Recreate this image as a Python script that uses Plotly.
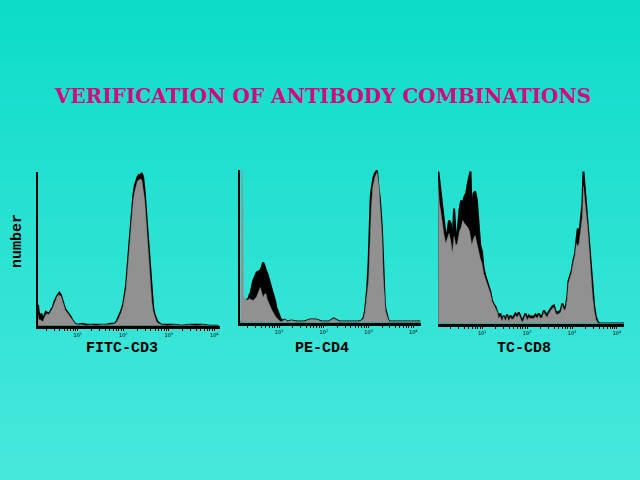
import math
import plotly.graph_objects as go

# ---------------- data (channel = 64 per decade, counts) ----------------
cd3_ch = [8, 9, 11, 13, 15, 17, 19, 21, 23, 25, 27, 29, 31, 33, 35, 37, 38, 40, 42, 44,
          46, 48, 50, 52, 54, 56, 58, 60, 64, 70, 76, 82, 90, 96, 104, 110, 116, 119, 122, 125,
          128, 130, 132, 134, 136, 138, 140, 142, 144, 146, 148, 150, 152, 154, 156, 158, 160, 162, 164, 166,
          168, 170, 172, 174, 176, 178, 182, 190, 200, 210, 220, 230, 240, 250, 262]
cd3_gray = [11, 6, 6, 5, 4, 8, 11, 12, 11, 13, 15, 18, 22, 26, 29, 31, 30, 30, 25, 20,
            16, 14, 12, 10, 7, 5, 3, 2, 1, 1, 0, 1, 0, 1, 1, 1, 2, 4, 8, 13,
            20, 27, 37, 55, 75, 95, 110, 125, 134, 141, 145, 146, 147, 146, 138, 126, 106, 85, 62, 42,
            24, 14, 8, 5, 3, 2, 1, 0, 1, 0, 1, 0, 1, 0, 0]
cd3_black = [21, 14, 9, 12, 6, 11, 14, 13, 12, 14, 16, 19, 24, 28, 30, 32, 33, 31, 26, 21,
             17, 15, 13, 12, 9, 6, 4, 2, 1, 2, 1, 1, 1, 1, 1, 2, 2, 5, 10, 15,
             22, 30, 41, 60, 80, 100, 115, 130, 140, 146, 149, 151, 150, 153, 148, 134, 114, 92, 70, 48,
             30, 18, 11, 7, 4, 3, 1, 1, 1, 0, 1, 1, 1, 0, 0]

cd4_ch = [9, 10, 11, 12, 13, 15, 18, 20, 22, 23, 27, 31, 32, 37, 39, 41, 43, 45, 47, 49,
          51, 52, 54, 56, 58, 60, 61, 64, 66, 68, 72, 76, 81, 90, 100, 108, 117, 125, 135, 142,
          150, 160, 170, 178, 182, 185, 187, 189, 190, 192, 193, 194, 195, 196, 198, 199, 201, 204, 206, 207,
          208, 211, 213, 215, 216, 218, 219, 220, 222, 223, 230, 245, 266]
cd4_gray = [1, 152, 152, 119, 24, 25, 22, 23, 24, 23, 22, 25, 26, 35, 30, 25, 28, 29, 23, 19,
            16, 15, 12, 9, 7, 5, 4, 2, 1, 1, 3, 1, 2, 1, 1, 3, 3, 1, 1, 4,
            1, 1, 1, 1, 2, 4, 10, 22, 30, 42, 60, 79, 100, 115, 135, 140, 145, 150, 140, 135,
            120, 89, 45, 19, 12, 7, 4, 3, 1, 1, 1, 1, 1]
cd4_black = [1, 1, 1, 1, 22, 23, 22, 24, 28, 29, 42, 49, 50, 52, 55, 60, 57, 52, 49, 44,
             39, 37, 34, 28, 22, 15, 13, 7, 4, 2, 3, 1, 2, 1, 1, 3, 3, 1, 1, 4,
             1, 1, 1, 1, 2, 5, 12, 26, 34, 60, 89, 105, 125, 132, 142, 145, 149, 152, 136, 132,
             125, 95, 52, 22, 14, 8, 5, 3, 1, 1, 1, 1, 1]

cd8_ch = [1.5, 3, 4.8, 7.2, 9.6, 12, 14.4, 16.8, 19.2, 21.5, 23.9, 26.3, 28.7, 31.6, 34, 36.3, 38.7, 41.1, 43.5, 45.9,
          47.3, 49.2, 51.6, 54, 56.4, 58.8, 61.2, 63.6, 66, 68.3, 70.7, 73.1, 75.5, 77.9, 80.3, 82.7, 85, 87.4, 89.8, 92.2,
          94.6, 97, 99.4, 101.8, 104.1, 106.5, 108.9, 111.3, 113.7, 116.1, 118.5, 120.9, 123.2, 125.6, 128, 130.4, 132.8, 135.2, 137.6, 140,
          142.3, 144.7, 147.1, 149.5, 151.9, 154.3, 156.7, 159, 161.4, 163.8, 166.2, 168.6, 171, 173.4, 175.8, 178.2, 180.6, 183, 185.3, 186.8,
          189.1, 191.5, 193.9, 196.3, 198.2, 200.1, 202, 204.4, 206.8, 208.2, 209.7, 211.6, 214, 216.4, 218.7, 221.1, 223.5, 225.9, 228.3, 230.7, 266]
cd8_gray = [135, 120, 113, 97, 88, 80, 85, 90, 82, 70, 87, 78, 80, 92, 96, 103, 100, 98, 96, 92,
            86, 78, 85, 88, 80, 72, 65, 60, 50, 45, 40, 35, 30, 22, 18, 15, 12, 5, 7, 2,
            7, 2, 7, 2, 6, 4, 5, 8, 6, 9, 5, 1, 4, 8, 3, 6, 5, 5, 5, 7,
            5, 8, 5, 6, 11, 8, 6, 10, 13, 15, 16, 10, 9, 10, 11, 18, 13, 15, 25, 40,
            45, 51, 61, 68, 80, 77, 80, 97, 107, 137, 123, 113, 97, 70, 53, 27, 13, 4, 1, 0, 0]
cd8_black = [152, 143, 133, 113, 100, 87, 92, 103, 100, 78, 115, 88, 90, 113, 123, 120, 127, 130, 140, 150,
             152, 100, 130, 132, 123, 100, 78, 72, 55, 48, 42, 37, 32, 23, 19, 17, 13, 7, 10, 2,
             8, 3, 9, 3, 8, 5, 7, 10, 8, 11, 7, 2, 6, 10, 5, 8, 7, 7, 7, 9,
             7, 10, 7, 8, 13, 10, 8, 12, 15, 17, 18, 12, 11, 12, 13, 20, 15, 17, 27, 42,
             47, 53, 63, 70, 83, 95, 87, 102, 120, 152, 137, 123, 103, 80, 60, 33, 17, 7, 2, 0, 0]

panel_labels = ["FITC-CD3", "PE-CD4", "TC-CD8"]
decade_labels = ["10<sup>1</sup>", "10<sup>2</sup>", "10<sup>3</sup>", "10<sup>4</sup>"]
decades = [1, 2, 3, 4]
title_text = "VERIFICATION OF ANTIBODY COMBINATIONS"
y_title = "number"

# ---------------- figure ----------------
W, H = 640, 480
CH_PER_DECADE = 64
fig = go.Figure()

# background gradient
top_c = (12, 220, 200)
bot_c = (72, 232, 220)
nb = 24
for i in range(nb):
    t = (i + 0.5) / nb
    c = tuple(int(round(top_c[j] + (bot_c[j] - top_c[j]) * t)) for j in range(3))
    fig.add_shape(type="rect", xref="paper", yref="paper",
                  x0=0, x1=1, y0=1 - (i + 1) / nb - 0.002, y1=1 - i / nb + 0.002,
                  line=dict(width=0), fillcolor="rgb(%d,%d,%d)" % c, layer="below")

panels = [
    (cd3_ch, cd3_gray, cd3_black, (38, 220), (325.7, 172), (8, 264), 154, True),
    (cd4_ch, cd4_gray, cd4_black, (240, 421), (322.5, 170), (8, 267), 152.5, True),
    (cd8_ch, cd8_gray, cd8_black, (438, 624), (323.5, 170), (1, 266), 153.5, False),
]

major_vals = [CH_PER_DECADE * d for d in decades]
minor_vals = [CH_PER_DECADE * (d + math.log10(k)) for d in range(0, 5) for k in range(2, 10)]

for i, (ch, gray, black, (xl, xr), (yb, yt), xr_rng, ymax, yline) in enumerate(panels):
    n = "" if i == 0 else str(i + 1)
    xa, ya = "x" + n, "y" + n
    fig.add_trace(go.Scatter(x=ch, y=black, mode="lines", fill="tozeroy",
                             fillcolor="black", line=dict(color="black", width=2),
                             xaxis=xa, yaxis=ya, showlegend=False, hoverinfo="skip"))
    fig.add_trace(go.Scatter(x=ch, y=gray, mode="lines", fill="tozeroy",
                             fillcolor="#919191", line=dict(color="#919191", width=0.5),
                             xaxis=xa, yaxis=ya, showlegend=False, hoverinfo="skip"))
    fig.layout["xaxis" + n] = dict(
        domain=[xl / W, xr / W], anchor=ya, range=list(xr_rng),
        showgrid=False, zeroline=False, showline=True, linecolor="black", linewidth=2.5,
        tickmode="array", tickvals=major_vals, ticktext=decade_labels, tickangle=0,
        ticks="outside", ticklen=3, tickwidth=1, tickcolor="black",
        minor=dict(tickmode="array", tickvals=minor_vals, ticks="outside",
                   ticklen=3, tickwidth=1, tickcolor="black", showgrid=False),
        tickfont=dict(size=5, color="black", family="DejaVu Sans"), fixedrange=True)
    fig.layout["yaxis" + n] = dict(
        domain=[1 - yb / H, 1 - yt / H], anchor=xa, range=[0, ymax],
        showgrid=False, zeroline=False, showticklabels=False, ticks="",
        showline=yline, linecolor="black", linewidth=1.5, fixedrange=True)

# annotations
fig.add_annotation(text="<b>" + title_text + "</b>", x=322 / W, y=1 - 96 / H,
                   xref="paper", yref="paper", showarrow=False,
                   xanchor="center", yanchor="middle",
                   font=dict(family="DejaVu Serif", size=20, color="#D4087E"))
label_x = [122, 322, 524]
for lx, lab in zip(label_x, panel_labels):
    fig.add_annotation(text="<b>" + lab + "</b>", x=lx / W, y=1 - 348 / H,
                       xref="paper", yref="paper", showarrow=False,
                       xanchor="center", yanchor="middle",
                       font=dict(family="Liberation Mono", size=15, color="black"))
fig.add_annotation(text="<b>" + y_title + "</b>", x=17 / W, y=1 - 241 / H,
                   xref="paper", yref="paper", showarrow=False, textangle=-90,
                   xanchor="center", yanchor="middle",
                   font=dict(family="Liberation Mono", size=15, color="black"))

fig.update_layout(width=W, height=H, autosize=False,
                  margin=dict(l=0, r=0, t=0, b=0),
                  paper_bgcolor="rgb(40,226,210)", plot_bgcolor="rgba(0,0,0,0)")

fig.write_html("out.html", config={"displayModeBar": False},
               post_script="document.body.style.margin='0px';document.body.style.overflow='hidden';")
